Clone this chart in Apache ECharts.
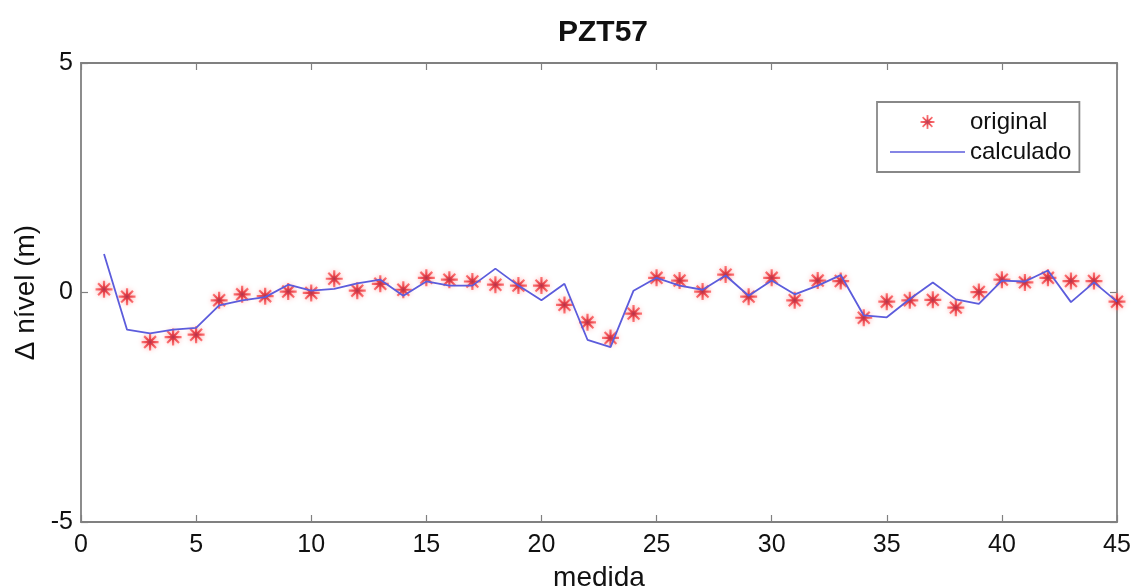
<!DOCTYPE html>
<html>
<head>
<meta charset="utf-8">
<script src="https://cdn.jsdelivr.net/npm/echarts@6/dist/echarts.min.js"></script>
<style>html,body{margin:0;padding:0;background:#fff}#c{width:1132px;height:588px}</style>
</head>
<body>
<div id="c"></div>
<script>
const medida = [1,2,3,4,5,6,7,8,9,10,11,12,13,14,15,16,17,18,19,20,21,22,23,24,25,26,27,28,29,30,31,32,33,34,35,36,37,38,39,40,41,42,43,44,45];
const original = [0.07,-0.09,-1.08,-0.97,-0.92,-0.17,-0.04,-0.08,0.02,-0.01,0.30,0.04,0.19,0.06,0.32,0.28,0.24,0.17,0.15,0.15,-0.27,-0.65,-0.99,-0.46,0.32,0.26,0.02,0.39,-0.09,0.32,-0.17,0.26,0.25,-0.55,-0.20,-0.17,-0.16,-0.33,0.01,0.28,0.22,0.32,0.25,0.25,-0.20];
const calculado = [0.84,-0.81,-0.89,-0.81,-0.77,-0.28,-0.17,-0.10,0.17,0.04,0.08,0.20,0.28,-0.07,0.24,0.15,0.15,0.52,0.15,-0.17,0.19,-1.03,-1.19,0.04,0.32,0.15,0.06,0.37,-0.07,0.26,-0.04,0.15,0.38,-0.50,-0.54,-0.14,0.22,-0.15,-0.25,0.26,0.24,0.48,-0.21,0.22,-0.20];
const xTicks = [0,5,10,15,20,25,30,35,40,45];
const yTicks = [-5,0,5];

const star = 'path://M-1.3,-10L1.3,-10L1.3,10L-1.3,10Z M-10,-1.3L10,-1.3L10,1.3L-10,1.3Z M-6.1,-7.9L7.9,6.1L6.1,7.9L-7.9,-6.1Z M6.1,-7.9L7.9,-6.1L-6.1,7.9L-7.9,6.1Z';
const lineIcon = 'path://M0,0L100,0L100,2L0,2Z';
const frame = '#808080';
const font = 'Liberation Sans, Arial, sans-serif';
const blue = '#5c5cdc';

const starFill = new echarts.graphic.RadialGradient(0.5, 0.5, 0.5, [
  {offset:0, color:'#9a1030'},
  {offset:0.35, color:'#e0202a'},
  {offset:1, color:'#ff5a5a'}
]);

const chart = echarts.init(document.getElementById('c'), null, {renderer:'canvas'});
const axisCommon = {
  axisLine:{show:true, onZero:false, lineStyle:{color:frame, width:1.8}},
  axisTick:{show:true, inside:true, length:7, lineStyle:{color:frame, width:1.2}},
  splitLine:{show:false}
};
chart.setOption({
  animation:false,
  backgroundColor:'#fff',
  title:{text:'PZT57', left:598, textAlign:'center', top:13,
    textStyle:{fontFamily:font, fontSize:30, fontWeight:'bold', color:'#111'}},
  legend:{
    orient:'vertical', left:877, top:102, padding:[8,8,8,13],
    itemWidth:75, itemHeight:14, itemGap:6,
    borderColor:'#888', borderWidth:1.8, backgroundColor:'#fff',
    textStyle:{fontFamily:font, fontSize:24, color:'#111'},
    data:[{name:'original'}, {name:'calculado', icon:lineIcon}]
  },
  grid:{left:81, right:15, top:63, bottom:66, show:false, containLabel:false, outerBoundsMode:'none'},
  xAxis:[
    Object.assign({type:'value', min:0, max:45, interval:5, position:'bottom',
      name:'medida', nameLocation:'middle', nameGap:42,
      nameTextStyle:{fontFamily:font, fontSize:28, color:'#111'},
      axisLabel:{fontFamily:font, fontSize:25, color:'#111', margin:11,
        customValues:xTicks}}, axisCommon),
    Object.assign({type:'value', min:0, max:45, interval:5, position:'top',
      axisLabel:{show:false}}, axisCommon)
  ],
  yAxis:[
    Object.assign({type:'value', min:-5, max:5, interval:5, position:'left',
      name:'Δ nível (m)', nameLocation:'middle', nameGap:38,
      nameTextStyle:{fontFamily:font, fontSize:28, color:'#111'},
      axisLabel:{fontFamily:font, fontSize:25, color:'#111', margin:8,
        customValues:yTicks}}, axisCommon),
    Object.assign({type:'value', min:-5, max:5, interval:5, position:'right',
      axisLabel:{show:false}}, axisCommon)
  ],
  series:[
    {name:'calculado', type:'line', xAxisIndex:0, yAxisIndex:0,
      data:medida.map((m,i)=>[m,calculado[i]]), symbol:'none', z:3,
      lineStyle:{color:blue, width:1.8}, itemStyle:{color:blue}},
    {name:'original', type:'scatter', xAxisIndex:0, yAxisIndex:0,
      data:medida.map((m,i)=>[m,original[i]]), symbol:star, symbolSize:17, symbolKeepAspect:true, z:2,
      itemStyle:{color:starFill, shadowBlur:5, shadowColor:'rgba(255,90,90,0.6)'}}
  ]
});
</script>
</body>
</html>
